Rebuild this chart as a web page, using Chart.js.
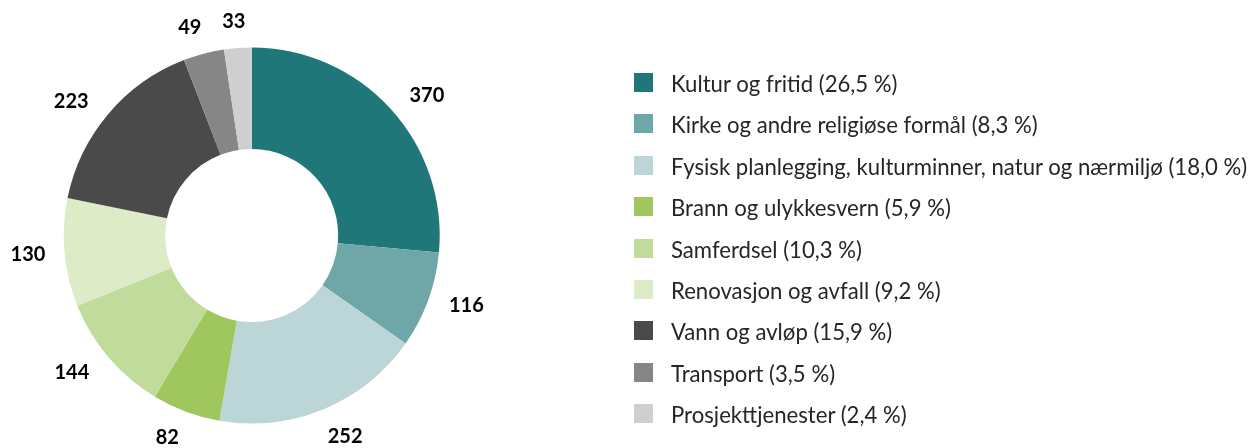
<!DOCTYPE html>
<html>
<head>
<meta charset="utf-8">
<script src="https://cdn.jsdelivr.net/npm/chart.js@4"></script>
<style>
  html, body { margin: 0; padding: 0; background: #fff; }
  #wrap { position: relative; width: 1256px; height: 448px; }
  #c { position: absolute; left: 0; top: 0; }
  #legend { position: absolute; left: 634px; top: 73px; margin: 0; padding: 0; list-style: none;
            font-family: Lato, "Noto Sans", sans-serif; color: #262626; }
  #legend li { display: flex; align-items: center; height: 19px; margin-bottom: 22.4px; white-space: nowrap; }
  #legend .box { width: 19px; height: 19px; flex: none; margin-right: 18px; }
  #legend .txt { position: relative; top: 1px; }
</style>
</head>
<body>
<div id="wrap">
  <canvas id="c" width="1256" height="448"></canvas>
  <ul id="legend"></ul>
</div>
<script>
const categories = [
  "Kultur og fritid",
  "Kirke og andre religiøse formål",
  "Fysisk planlegging, kulturminner, natur og nærmiljø",
  "Brann og ulykkesvern",
  "Samferdsel",
  "Renovasjon og avfall",
  "Vann og avløp",
  "Transport",
  "Prosjekttjenester"
];
const values = [370, 116, 252, 82, 144, 130, 223, 49, 33];
const shares = ["26,5", "8,3", "18,0", "5,9", "10,3", "9,2", "15,9", "3,5", "2,4"];
const colors = ["#20777A", "#6FA7A8", "#BCD6D7", "#A0C65E", "#C1DB9A", "#DDEBC7", "#4A4A4A", "#868686", "#CFCFCF"];

// HTML legend built from the data
const legendLabels = categories.map((c, i) => c + " (" + shares[i] + " %)");
const ul = document.getElementById('legend');
const mctx = document.createElement('canvas').getContext('2d');
let longest = 0;
mctx.font = '20px Lato';
legendLabels.forEach(t => { longest = Math.max(longest, mctx.measureText(t).width); });
const legendFont = Math.min(24, 20 * 577 / longest);
ul.style.fontSize = legendFont.toFixed(2) + 'px';
legendLabels.forEach((t, i) => {
  const li = document.createElement('li');
  const b = document.createElement('span'); b.className = 'box'; b.style.background = colors[i];
  const s = document.createElement('span'); s.className = 'txt'; s.textContent = t;
  li.appendChild(b); li.appendChild(s); ul.appendChild(li);
});

const outsideLabels = {
  id: 'outsideLabels',
  afterDatasetsDraw(chart) {
    const ctx = chart.ctx;
    const meta = chart.getDatasetMeta(0);
    ctx.save();
    ctx.font = 'bold 20px Lato, "Noto Sans", sans-serif';
    ctx.fillStyle = '#000';
    ctx.textAlign = 'center';
    ctx.textBaseline = 'middle';
    meta.data.forEach((arc, i) => {
      const p = arc.getProps(['x', 'y', 'startAngle', 'endAngle', 'outerRadius'], true);
      // angle measured clockwise from top
      let th = (p.startAngle + p.endAngle) / 2 + Math.PI / 2;
      th += (3.5 * Math.PI / 180) * Math.sin(2 * th); // lean toward horizontal, like Excel's outside-end
      const txt = String(values[i]);
      const w = ctx.measureText(txt).width;
      const h = 16;
      const sx = Math.sin(th), cy = -Math.cos(th);
      const ext = (w / 2) * Math.abs(sx) + (h / 2) * Math.abs(cy);
      const r = p.outerRadius + 18.5 + ext;
      ctx.fillText(txt, p.x + sx * r, p.y + cy * r + 1);
    });
    ctx.restore();
  }
};

new Chart(document.getElementById('c'), {
  type: 'doughnut',
  data: {
    labels: categories,
    datasets: [{ data: values, backgroundColor: colors, borderWidth: 0 }]
  },
  options: {
    responsive: false,
    animation: false,
    cutout: '46%',
    layout: { padding: { left: 63.7, top: 47.5, right: 816.3, bottom: 24.5 } },
    plugins: { legend: { display: false }, tooltip: { enabled: false } }
  },
  plugins: [outsideLabels]
});
</script>
</body>
</html>
